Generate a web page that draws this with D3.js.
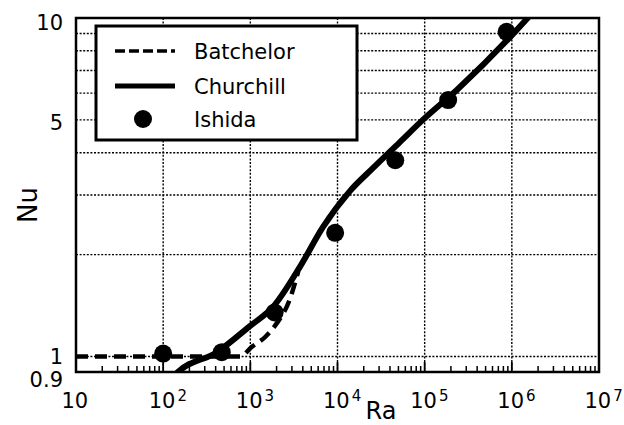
<!DOCTYPE html>
<html>
<head>
<meta charset="utf-8">
<script src="https://cdn.jsdelivr.net/npm/d3@7"></script>
<style>
  html, body { margin: 0; padding: 0; background: #fff; }
  svg { display: block; font-family: "DejaVu Sans", sans-serif; }
</style>
</head>
<body>
<svg id="chart" width="624" height="425"></svg>
<script>
// ---- data ----
const batchelorRa = [10, 100, 760, 1050, 1470, 1950, 2820, 3540];
const batchelorNu = [1.0, 1.0, 1.0, 1.07, 1.14, 1.24, 1.47, 1.78];

const churchillRa = [130, 148, 414, 989, 1816, 3705, 6800, 13870, 25460, 52000, 95300, 234000, 1520000, 1800000];
const churchillNu = [0.87, 0.9, 1.03, 1.23, 1.40, 1.84, 2.41, 3.08, 3.60, 4.30, 5.0, 6.13, 10.0, 10.5];

const ishidaRa = [100, 470, 1900, 9400, 46000, 186000, 870000];
const ishidaNu = [1.02, 1.03, 1.35, 2.32, 3.8, 5.72, 9.1];

const xTicks = [10, 1e2, 1e3, 1e4, 1e5, 1e6, 1e7];
const xTickSup = ["", "2", "3", "4", "5", "6", "7"];
const xGrid = [1e2, 1e3, 1e4, 1e5, 1e6];
const yGrid = [1, 2, 3, 4, 5, 6, 7, 8, 9];
const yTicks = [10, 5, 1, 0.9];
const yTickLabels = ["10", "5", "1", "0.9"];
const legendNames = ["Batchelor", "Churchill", "Ishida"];

// ---- layout ----
const svg = d3.select("#chart");
const L = 76, R = 599, T = 18, B = 372;
const x = d3.scaleLog().domain([10, 1e7]).range([L, R]);
const y = d3.scaleLog().domain([0.9, 10]).range([B, T]);

svg.append("defs").append("clipPath").attr("id", "clip")
  .append("rect").attr("x", L).attr("y", T).attr("width", R - L).attr("height", B - T);

// gridlines
const grid = svg.append("g").attr("stroke", "#000").attr("stroke-width", 1.4)
  .attr("stroke-dasharray", "2,1.6");
grid.selectAll("line.h").data(yGrid).join("line").attr("class", "h")
  .attr("x1", L).attr("x2", R).attr("y1", d => y(d)).attr("y2", d => y(d));
grid.selectAll("line.v").data(xGrid).join("line").attr("class", "v")
  .attr("y1", T).attr("y2", B).attr("x1", d => x(d)).attr("x2", d => x(d));

// minor ticks on bottom axis (inside)
const minor = [];
for (let k = 1; k < 7; k++) for (let m = 2; m <= 9; m++) minor.push(m * Math.pow(10, k));
svg.append("g").attr("stroke", "#000").attr("stroke-width", 1.5)
  .selectAll("line").data(minor).join("line")
  .attr("x1", d => x(d)).attr("x2", d => x(d)).attr("y1", B).attr("y2", B - 6);
// major ticks
svg.append("g").attr("stroke", "#000").attr("stroke-width", 1.8)
  .selectAll("line").data(xTicks).join("line")
  .attr("x1", d => x(d)).attr("x2", d => x(d)).attr("y1", B).attr("y2", B - 10);

// frame
svg.append("rect").attr("x", L).attr("y", T).attr("width", R - L).attr("height", B - T)
  .attr("fill", "none").attr("stroke", "#000").attr("stroke-width", 2.5);

// legend box
const lg = svg.append("g");
lg.append("rect").attr("x", 96).attr("y", 26).attr("width", 261).attr("height", 114)
  .attr("fill", "#fff").attr("stroke", "#000").attr("stroke-width", 3);

// data layers
const plot = svg.append("g").attr("clip-path", "url(#clip)");
const line = d3.line().x(d => x(d[0])).y(d => y(d[1])).curve(d3.curveMonotoneX);

plot.append("path").datum(batchelorRa.map((r, i) => [r, batchelorNu[i]]))
  .attr("d", line).attr("fill", "none").attr("stroke", "#000")
  .attr("stroke-width", 4.5).attr("stroke-dasharray", "12,7");

plot.append("path").datum(churchillRa.map((r, i) => [r, churchillNu[i]]))
  .attr("d", line).attr("fill", "none").attr("stroke", "#000")
  .attr("stroke-width", 6).attr("stroke-linejoin", "round");

plot.selectAll("circle").data(ishidaRa.map((r, i) => [r, ishidaNu[i]])).join("circle")
  .attr("cx", d => x(d[0])).attr("cy", d => y(d[1])).attr("r", 9).attr("fill", "#000");

// legend entries
const ly = [51, 86, 119];
lg.append("line").attr("x1", 115).attr("x2", 175).attr("y1", ly[0]).attr("y2", ly[0])
  .attr("stroke", "#000").attr("stroke-width", 3.5).attr("stroke-dasharray", "10,4");
lg.append("line").attr("x1", 115).attr("x2", 175).attr("y1", ly[1]).attr("y2", ly[1])
  .attr("stroke", "#000").attr("stroke-width", 5);
lg.append("circle").attr("cx", 143).attr("cy", ly[2]).attr("r", 9).attr("fill", "#000");
lg.selectAll("text").data(legendNames).join("text")
  .attr("x", 194).attr("y", (d, i) => ly[i]).attr("dy", "0.36em")
  .attr("font-size", 21).text(d => d);

// y tick labels
const yOff = [4, 3, 0, 7];
svg.append("g").selectAll("text").data(yTicks).join("text")
  .attr("x", 63).attr("y", (d, i) => y(d) + yOff[i]).attr("dy", "0.36em")
  .attr("text-anchor", "end").attr("font-size", 21)
  .text((d, i) => yTickLabels[i]);

// x tick labels
const xt = svg.append("g").selectAll("text").data(xTicks).join("text")
  .attr("x", d => x(d) - 14.5).attr("y", 408).attr("font-size", 21);
xt.append("tspan").text("10");
xt.append("tspan").attr("dx", 2).attr("dy", -7).attr("font-size", 15)
  .text((d, i) => xTickSup[i]);

// axis titles
svg.append("text").attr("x", 381).attr("y", 419).attr("text-anchor", "middle")
  .attr("font-size", 24).text("Ra");
svg.append("text").attr("transform", "translate(37,205) rotate(-90)")
  .attr("text-anchor", "middle").attr("font-size", 26).text("Nu");
</script>
</body>
</html>
